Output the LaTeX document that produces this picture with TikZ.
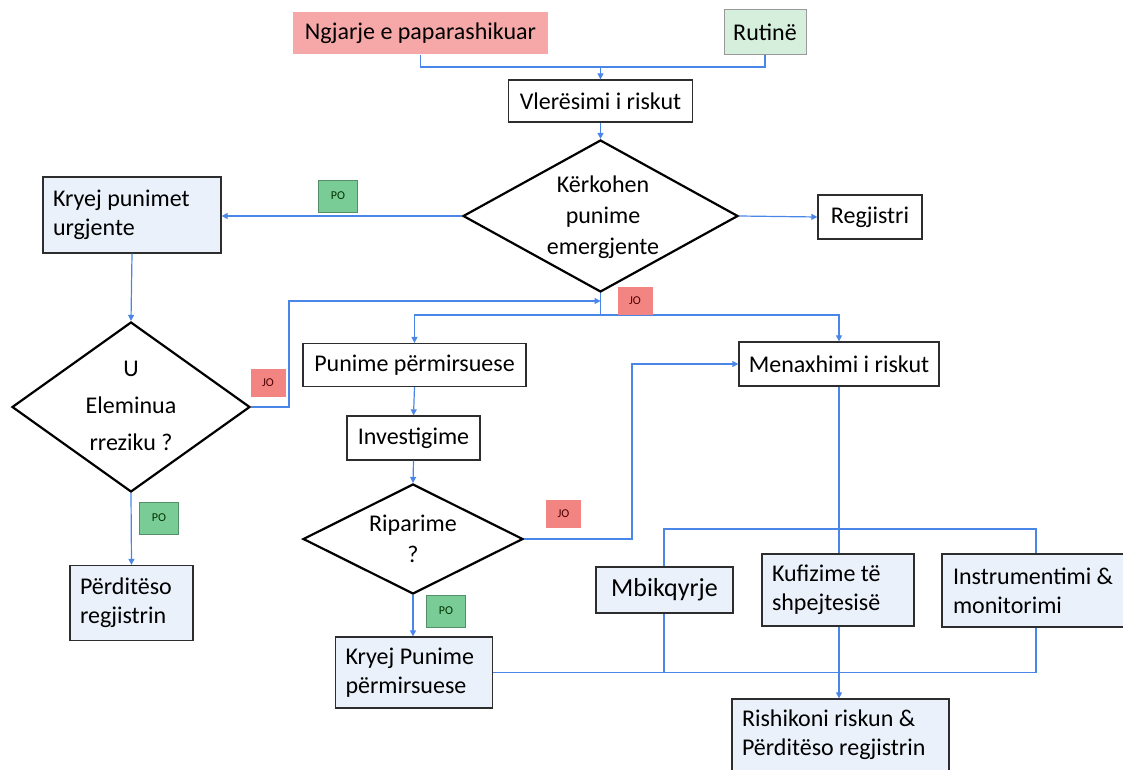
\documentclass[tikz,border=0pt]{standalone}
\usepackage{fontspec}
\setmainfont{Carlito}
\usetikzlibrary{shapes.geometric,arrows.meta}
\definecolor{cline}{RGB}{74,134,232}
\definecolor{lblue}{RGB}{234,241,251}
\definecolor{pinkf}{RGB}{246,168,168}
\definecolor{greenf}{RGB}{214,238,220}
\definecolor{pog}{RGB}{122,204,150}
\definecolor{jor}{RGB}{242,132,130}
\definecolor{bord}{RGB}{45,45,45}
\begin{document}
\begin{tikzpicture}[x=1pt,y=-1pt,
  box/.style={draw=bord, line width=1.3pt, inner sep=0pt, fill=white, align=center,
    font=\fontsize{24}{29}\selectfont},
  bbox/.style={box, fill=lblue},
  lbox/.style={bbox, align=left, inner xsep=10pt,
    execute at begin node={\spaceskip=0pt\relax\xspaceskip=0pt\relax}},
  dia/.style={diamond, draw=black, line width=2.2pt, inner sep=0pt, fill=white},
  dtext/.style={align=center, inner sep=0pt, font=\fontsize{24}{31}\selectfont},
  po/.style={fill=pog, draw=pog!70!black, line width=0.5pt, inner sep=0pt,
    minimum width=39pt, minimum height=32pt, font=\fontsize{12}{12}\selectfont\color{black!80!green}},
  jo/.style={fill=jor, inner sep=0pt, minimum width=35pt, minimum height=28pt,
    font=\fontsize{12}{12}\selectfont\color{black!70!red}},
  line/.style={draw=cline, line width=1.2pt},
  arr/.style={line, -{Triangle[length=6pt,width=6pt]}}]
\useasboundingbox (0,0) rectangle (1123,770);

% top
\node[box, fill=pinkf, draw=none, minimum width=255pt, minimum height=42pt] (ngj) at (420.5,33) {Ngjarje e paparashikuar};
\node[box, fill=greenf, draw=black!40, line width=1pt, minimum width=82pt, minimum height=45pt] (rut) at (765,32) {Rutinë};
\node[box, minimum width=184pt, minimum height=42pt] (vle) at (600.5,101) {Vlerësimi i riskut};
\coordinate (j) at (600.5,67);
\draw[line] (ngj.south) |- (j);
\draw[line] (rut.south) |- (j);
\draw[arr] (j) -- (vle.north);

% decision 1
\node[dia, minimum width=275pt, minimum height=152pt] (dk) at (600.5,216) {};
\node[dtext] (dkt) at (603,217) {Kërkohen\\punime\\emergjente};
\draw[arr] (vle.south) -- (dk.north);

\node[lbox, text width=158pt, minimum height=76pt] (kry) at (132,215) {Kryej punimet\\urgjente};
\draw[arr] (dk.west) -- (dk.west -| kry.east);
\node[po] (po1) at (338,196) {PO};

\node[box, minimum width=104pt, minimum height=44pt] (reg) at (870,217) {Regjistri};
\draw[arr] (dk.east) -- (reg.west);

% JO branch
\node[box, minimum width=223pt, minimum height=43pt] (pp) at (414.5,365) {Punime përmirsuese};
\node[box, minimum width=200pt, minimum height=44pt] (men) at (839,364) {Menaxhimi i riskut};
\coordinate (jb) at (600.5,315);
\draw[line] (dk.south) -- (jb);
\draw[arr] (jb) -| (pp.north);
\draw[arr] (jb) -| (men.north);
\node[jo] (jo1) at (635,301) {JO};

% U eleminua
\node[dia, minimum width=238pt, minimum height=170pt] (ud) at (131,407) {};
\node[dtext, font=\fontsize{24}{37}\selectfont] (udt) at (131,406) {U\\Eleminua\\rreziku ?};
\draw[arr] (kry.south) -- (ud.north);
\coordinate (lp) at (289,301);
\draw[arr] (ud.east) -- (ud.east -| lp) -- (lp) -- (lp -| dk.south);
\node[jo] (jo2) at (268,383) {JO};

\node[lbox, text width=103pt, minimum height=75pt] (pd) at (131.5,603) {Përditëso\\regjistrin};
\draw[arr] (ud.south) -- (pd.north);
\node[po] (po2) at (159,518) {PO};

% middle column
\node[box, minimum width=133pt, minimum height=44pt] (inv) at (413.5,438) {Investigime};
\draw[arr] (pp.south) -- (inv.north);
\node[dia, minimum width=220pt, minimum height=110pt] (rd) at (413,539) {};
\node[dtext, font=\fontsize{24}{31}\selectfont] (rdt) at (413,539) {Riparime\\?};
\draw[arr] (inv.south) -- (rd.north);
\coordinate (rj) at (632,539);
\draw[arr] (rd.east) -- (rj) |- (men.west);
\node[jo] (jo3) at (563.5,514) {JO};

\node[lbox, text width=137pt, minimum height=71pt] (kp) at (414,672.5) {Kryej Punime\\përmirsuese};
\draw[arr] (rd.south) -- (rd.south |- kp.north);
\node[po] (po3) at (446,611) {PO};

% risk management measures
\coordinate (tl) at (664,529);
\coordinate (tr) at (1036,529);
\draw[line] (kp.east) -- (kp.east -| tr) -- (tr) -- (tl) -- (tl |- kp.east);
\node[lbox, text width=197pt, minimum height=72pt] (ris) at (840.5,735) {Rishikoni riskun \&\\Përditëso regjistrin};
\draw[arr] (men.south) -- (men.south |- ris.north);

\node[bbox, minimum width=137pt, minimum height=46pt, font=\fontsize{26}{30}\selectfont] (mbi) at (664.5,590) {Mbikqyrje};
\node[lbox, text width=132pt, minimum height=72pt] (kuf) at (838,590) {Kufizime të\\shpejtesisë};
\node[lbox, inner xsep=11pt, text width=160pt, minimum height=73pt] (ins) at (1033,590.5) {Instrumentimi \&\\monitorimi};
\end{tikzpicture}
\end{document}
